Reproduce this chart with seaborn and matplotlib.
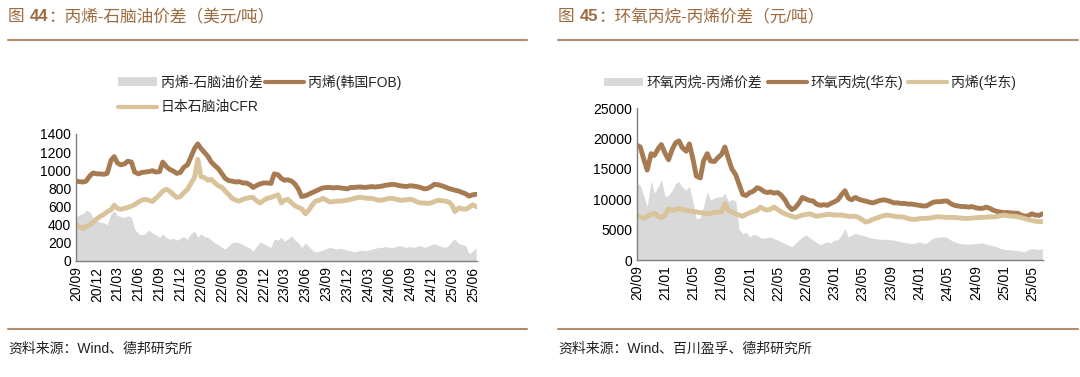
import pandas as pd
import matplotlib.pyplot as plt
import matplotlib.dates as mdates
import seaborn as sns
from matplotlib.patches import Patch
from matplotlib.lines import Line2D

# 半月度数据 2020/09 - 2025/06
fechas = pd.date_range('2020-09-01', periods=116, freq='SMS')

# 图44 丙烯(韩国FOB) 美元/吨
propileno_fob = [
    880, 875, 870, 880, 940, 970, 960, 960, 955, 965, 1110, 1150, 1080, 1060, 1070, 1100,
    1090, 980, 960, 975, 980, 985, 995, 980, 985, 1090, 1040, 1010, 990, 965, 975, 1030,
    1060, 1140, 1240, 1290, 1240, 1200, 1150, 1090, 1050, 1020, 960, 910, 885, 880, 870, 875,
    860, 860, 840, 810, 835, 850, 860, 860, 855, 960, 950, 910, 890, 895, 880, 850,
    790, 710, 720, 735, 755, 770, 790, 805, 810, 810, 805, 810, 805, 800, 795, 810,
    810, 815, 815, 810, 815, 820, 815, 820, 825, 835, 840, 845, 840, 830, 825, 820,
    830, 825, 820, 810, 795, 800, 820, 845, 840, 830, 815, 800, 790, 780, 770, 755,
    740, 715, 730, 735]

# 日本石脑油CFR
nafta_cfr = [
    400, 375, 360, 380, 400, 430, 465, 490, 515, 540, 565, 615, 580, 570, 580, 590,
    605, 620, 650, 670, 680, 670, 655, 690, 730, 770, 790, 770, 730, 700, 710, 750,
    790, 850, 920, 1120, 930, 920, 890, 900, 860, 830, 810, 770, 730, 690, 670, 660,
    680, 690, 700, 700, 660, 640, 670, 690, 700, 715, 730, 640, 670, 680, 640, 610,
    590, 575, 520, 560, 620, 660, 670, 690, 670, 650, 655, 660, 660, 665, 670, 680,
    690, 700, 700, 695, 690, 690, 680, 670, 670, 680, 690, 690, 680, 670, 670, 675,
    680, 670, 650, 640, 640, 635, 640, 655, 670, 665, 660, 650, 620, 545, 585, 575,
    570, 590, 620, 600]

# 丙烯-石脑油价差
spread_44 = [
    480, 510, 520, 560, 540, 470, 440, 430, 420, 400, 520, 550, 500, 490, 480, 500,
    480, 350, 300, 290, 300, 340, 310, 290, 260, 300, 260, 240, 250, 230, 250, 270,
    240, 300, 330, 260, 300, 270, 260, 230, 200, 180, 150, 130, 170, 200, 210, 200,
    180, 160, 140, 110, 170, 210, 190, 170, 150, 240, 230, 260, 220, 240, 280, 230,
    200, 150, 200, 160, 120, 100, 110, 120, 140, 150, 140, 130, 140, 130, 120, 110,
    100, 110, 120, 110, 120, 130, 140, 150, 150, 160, 150, 150, 160, 170, 160, 150,
    160, 150, 160, 170, 150, 160, 180, 190, 170, 160, 150, 170, 220, 240, 190, 180,
    170, 80, 110, 150]

# 图45 环氧丙烷(华东) 元/吨
po_huadong = [
    18900, 18600, 16500, 14800, 17500, 17200, 18300, 19000, 17500, 16500, 18300, 19300,
    19600, 18500, 17900, 19100, 16500, 13800, 13500, 16300, 17500, 16300, 16200, 16800,
    17400, 18600, 16600, 15000, 14000, 12500, 10800, 10600, 11100, 11300, 11900, 11700,
    11300, 11100, 11200, 11000, 11100, 10700, 9900, 8900, 8300, 8600, 9400, 10300,
    10000, 9800, 9700, 9200, 9000, 9100, 9000, 9300, 9600, 9900, 10800, 11400,
    10200, 9900, 10300, 10000, 9800, 9700, 9500, 9400, 9600, 9800, 9900, 9800,
    9600, 9400, 9400, 9300, 9300, 9200, 9200, 9100, 9000, 8900, 8900, 9200,
    9500, 9600, 9600, 9700, 9700, 9300, 9000, 8900, 8800, 8800, 8700, 8800,
    8600, 8500, 8500, 8700, 8500, 8200, 8000, 7900, 7800, 7800, 7750, 7700,
    7700, 7400, 7200, 7300, 7600, 7400, 7350, 7600]

# 丙烯(华东)
propileno_huadong = [
    7400, 7100, 6850, 7200, 7500, 7700, 7200, 7000, 7400, 8400, 8200, 8300,
    8500, 8300, 8200, 8100, 8000, 7900, 7800, 7700, 7600, 7700, 7800, 7900,
    7950, 9300, 8200, 7900, 7600, 7400, 7200, 7500, 7800, 8000, 8200, 8700,
    8400, 8200, 8400, 8700, 8300, 7950, 7600, 7400, 7200, 7000, 7200, 7400,
    7500, 7600, 7400, 7200, 7300, 7400, 7500, 7500, 7400, 7400, 7400, 7300,
    7200, 7200, 7200, 7000, 6600, 6250, 6400, 6700, 6900, 7100, 7300, 7400,
    7300, 7200, 7100, 7100, 7000, 6800, 6700, 6700, 6800, 6850, 6850, 6900,
    7000, 7100, 7100, 7050, 7000, 7000, 7000, 6950, 6900, 6850, 6850, 6900,
    6950, 7000, 7000, 7050, 7100, 7100, 7150, 7300, 7400, 7300, 7200, 7200,
    7100, 7000, 6800, 6650, 6500, 6400, 6300, 6350]

# 环氧丙烷-丙烯价差
spread_45 = [
    12600, 12300, 10500, 8800, 13000, 11000, 12000, 13200, 10400, 10700, 11500, 12600,
    12900, 12000, 11500, 12100, 9500, 6800, 7000, 8800, 11200, 9900, 10200, 10400,
    10400, 11000, 9600, 10000, 9700, 5000, 4300, 4600, 3800, 4200, 4100, 3700,
    3600, 3700, 3800, 3500, 3300, 3000, 2700, 2500, 2200, 2700, 3300, 3800,
    4100, 3700, 3300, 2900, 2500, 2800, 3000, 2800, 3300, 3300, 4200, 5200,
    3800, 4100, 4400, 4200, 4100, 3900, 3700, 3600, 3500, 3400, 3400, 3400,
    3300, 3300, 3100, 3000, 2850, 2800, 2700, 2800, 3000, 2800, 2700, 3200,
    3600, 3700, 3800, 3800, 3700, 3300, 3000, 2800, 2700, 2650, 2600, 2650,
    2700, 2750, 2800, 2600, 2500, 2300, 2200, 1900, 1750, 1700, 1650, 1600,
    1550, 1450, 1400, 1700, 1900, 1800, 1750, 1900]

marron = '#A67B52'
beige = '#D8C39B'
gris = '#D9D9D9'
color_titulo = '#9C6B3F'
color_linea = '#B08D6E'

sns.set_style('white')
plt.rcParams['font.family'] = ['Liberation Sans', 'Noto Sans CJK SC']

fig = plt.figure(figsize=(10.8, 3.77), dpi=100)

df44 = pd.DataFrame({'fecha': fechas, 'fob': propileno_fob, 'cfr': nafta_cfr, 'spread': spread_44})
df45 = pd.DataFrame({'fecha': fechas, 'po': po_huadong, 'c3': propileno_huadong, 'spread': spread_45})

ax1 = fig.add_axes([0.0704, 0.3077, 0.371, 0.337])
ax2 = fig.add_axes([0.5898, 0.3103, 0.376, 0.403])

# grafico izquierdo
ax1.fill_between(df44['fecha'], 0, df44['spread'], color=gris, lw=0)
sns.lineplot(data=df44, x='fecha', y='fob', ax=ax1, color=marron, linewidth=3.5)
sns.lineplot(data=df44, x='fecha', y='cfr', ax=ax1, color=beige, linewidth=3.5)
ax1.set_ylim(0, 1400)
ax1.set_yticks(range(0, 1401, 200))
ax1.set_xticks(pd.date_range('2020-09-01', '2025-06-01', freq='3MS'))

# grafico derecho
ax2.fill_between(df45['fecha'], 0, df45['spread'], color=gris, lw=0)
sns.lineplot(data=df45, x='fecha', y='po', ax=ax2, color=marron, linewidth=3.5)
sns.lineplot(data=df45, x='fecha', y='c3', ax=ax2, color=beige, linewidth=3.5)
ax2.set_ylim(0, 25000)
ax2.set_yticks(range(0, 25001, 5000))
ax2.set_xticks(pd.date_range('2020-09-01', '2025-05-01', freq='4MS'))

for ax in (ax1, ax2):
    ax.set_xlim(fechas[0], pd.Timestamp('2025-06-18'))
    ax.xaxis.set_major_formatter(mdates.DateFormatter('%y/%m'))
    ax.set_xlabel('')
    ax.set_ylabel('')
    for s in ('top', 'right'):
        ax.spines[s].set_visible(False)
    for s in ('left', 'bottom'):
        ax.spines[s].set_color('#7f7f7f')
        ax.spines[s].set_linewidth(1)
    ax.tick_params(axis='both', direction='in', length=3, color='#7f7f7f', labelsize=10, labelcolor='black')
    ax.tick_params(axis='x', rotation=90, pad=4)
    ax.grid(False)

# leyendas
h_spread = Patch(facecolor=gris, edgecolor='none')
h_marron = Line2D([], [], color=marron, lw=3)
h_beige = Line2D([], [], color=beige, lw=3)

fig.legend([h_spread, h_beige, h_marron], ['丙烯-石脑油价差', '日本石脑油CFR', '丙烯(韩国FOB)'],
           ncol=2, loc='upper left', bbox_to_anchor=(0.098, 0.835), frameon=False, fontsize=10,
           handlelength=2.8, handleheight=0.6, handletextpad=0.25, columnspacing=0.2, labelspacing=0.75)
fig.legend([h_spread, h_marron, h_beige], ['环氧丙烷-丙烯价差', '环氧丙烷(华东)', '丙烯(华东)'],
           ncol=3, loc='upper left', bbox_to_anchor=(0.548, 0.835), frameon=False, fontsize=10,
           handlelength=2.8, handleheight=0.6, handletextpad=0.25, columnspacing=0.4)

# titulos en tres partes: "图 " + "44" en negrita + resto
renderer = fig.canvas.get_renderer()


def titulo(x, numero, resto):
    partes = [('图 ', 'normal'), (numero, 'bold'), (resto, 'normal')]
    for texto, peso in partes:
        t = fig.text(x, 0.955, texto, fontsize=12, color=color_titulo, va='center', fontweight=peso)
        bb = t.get_window_extent(renderer=renderer)
        x = x + bb.width / fig.bbox.width


titulo(0.0075, '44', '：丙烯-石脑油价差（美元/吨）')
titulo(0.517, '45', '：环氧丙烷-丙烯价差（元/吨）')

for x0, x1 in ((0.0075, 0.488), (0.517, 0.998)):
    fig.add_artist(Line2D([x0, x1], [0.894, 0.894], color=color_linea, lw=1.5, transform=fig.transFigure))
    fig.add_artist(Line2D([x0, x1], [0.127, 0.127], color=color_linea, lw=1.5, transform=fig.transFigure))
fig.text(0.0075, 0.075, '资料来源：Wind、德邦研究所', fontsize=10, color='#222222', va='center')
fig.text(0.517, 0.075, '资料来源：Wind、百川盈孚、德邦研究所', fontsize=10, color='#222222', va='center')

plt.savefig('out.png', dpi=100)
